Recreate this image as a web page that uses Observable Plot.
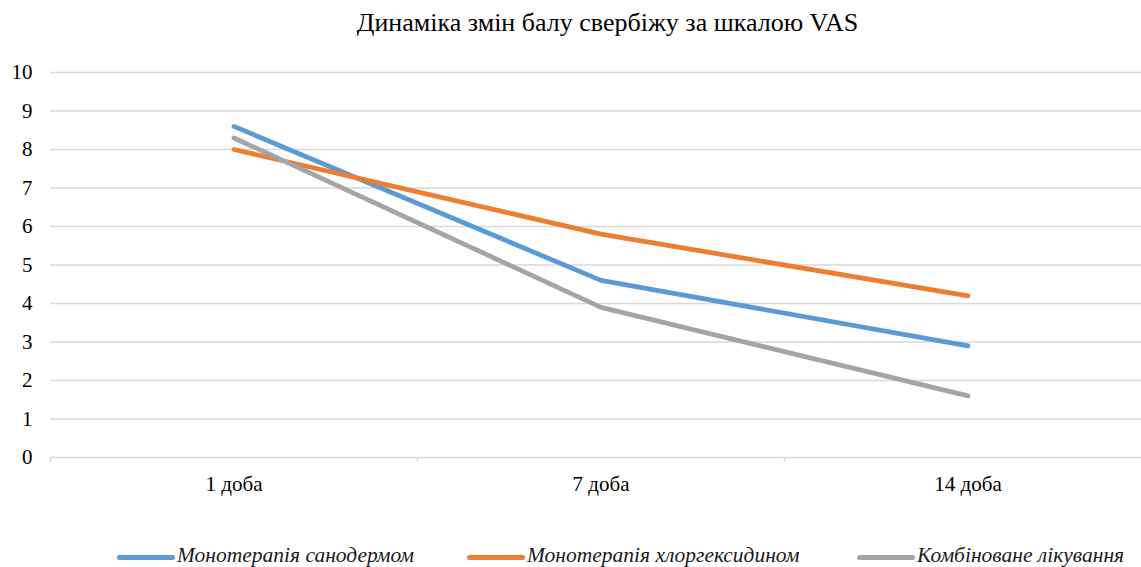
<!DOCTYPE html>
<html>
<head>
<meta charset="utf-8">
<script src="https://cdn.jsdelivr.net/npm/d3@7"></script>
<script src="https://cdn.jsdelivr.net/npm/@observablehq/plot@0.6"></script>
<style>
  html, body { margin: 0; padding: 0; background: #fff; }
  body { width: 1141px; height: 567px; overflow: hidden; font-family: 'Liberation Serif', serif; }
  #title { height: 50px; line-height: 45px; text-align: center; padding-left: 74px; font-size: 26px; color: #000; font-family: 'Liberation Serif', serif; }
  #legend { position: relative; height: 37px; }
  .item { position: absolute; top: 13px; height: 24px; line-height: 24px; display: flex; align-items: center; font-style: italic; font-size: 21.5px; color: #1a1a1a; white-space: nowrap; font-family: 'Liberation Serif', serif; }
  .sw { display: inline-block; width: 58px; height: 5px; border-radius: 3px; margin-right: 2px; margin-top: 4px; }
</style>
</head>
<body>
<div id="title">Динаміка змін балу свербіжу за шкалою VAS</div>
<div id="chart"></div>
<div id="legend"></div>
<script>
const categories = ["1 доба", "7 доба", "14 доба"];
const seriesNames = ["Монотерапія санодермом", "Монотерапія хлоргексидином", "Комбіноване лікування"];
const sanoderm = [8.6, 4.6, 2.9];
const chlorhexidine = [8.0, 5.8, 4.2];
const combined = [8.3, 3.9, 1.6];
const yTicks = [0, 1, 2, 3, 4, 5, 6, 7, 8, 9, 10];
const colors = ["#5B9BD5", "#ED7D31", "#A5A5A5"];

const SERIF = "'Liberation Serif', serif";

const seriesValues = [sanoderm, chlorhexidine, combined];
const data = [];
seriesValues.forEach((vals, s) => vals.forEach((v, i) => data.push({series: seriesNames[s], i, cat: categories[i], value: v})));

const boundaries = d3.range(categories.length + 1).map(k => k - 0.5);

const chart = Plot.plot({
  width: 1141,
  height: 480,
  marginLeft: 50,
  marginRight: -10,
  marginTop: 22,
  marginBottom: 73,
  style: {fontFamily: SERIF, fontSize: "21px", color: "#000", background: "#fff"},
  x: {domain: [-0.5, categories.length - 0.5]},
  y: {domain: [0, 10]},
  color: {domain: seriesNames, range: colors},
  marks: [
    Plot.gridY(yTicks.filter(t => t > 0), {stroke: "#d9d9d9", strokeOpacity: 1, strokeWidth: 1.5}),
    Plot.ruleY([0], {stroke: "#d9d9d9", strokeWidth: 1.5}),
    Plot.axisY(yTicks, {tickSize: 0, tickPadding: 18, fontSize: 21, label: null}),
    Plot.axisX(boundaries, {tickSize: 5, stroke: "#d9d9d9", strokeWidth: 1.5, tickFormat: () => "", label: null}),
    Plot.axisX(d3.range(categories.length), {tickSize: 0, tickPadding: 19, tickFormat: i => categories[i], fontSize: 21, label: null}),
    Plot.line(data, {x: "i", y: "value", z: "series", stroke: "series", strokeWidth: 4.8, strokeLinecap: "round", strokeLinejoin: "round"})
  ]
});
chart.querySelectorAll("text").forEach(t => t.setAttribute("font-family", SERIF));
document.getElementById("chart").appendChild(chart);

const legendPos = [117, 467, 857];
const legend = document.getElementById("legend");
seriesNames.forEach((name, k) => {
  const it = document.createElement("div");
  it.className = "item";
  it.style.left = legendPos[k] + "px";
  const sw = document.createElement("span");
  sw.className = "sw";
  sw.style.background = colors[k];
  const tx = document.createElement("span");
  tx.textContent = name;
  it.appendChild(sw);
  it.appendChild(tx);
  legend.appendChild(it);
});
</script>
</body>
</html>
